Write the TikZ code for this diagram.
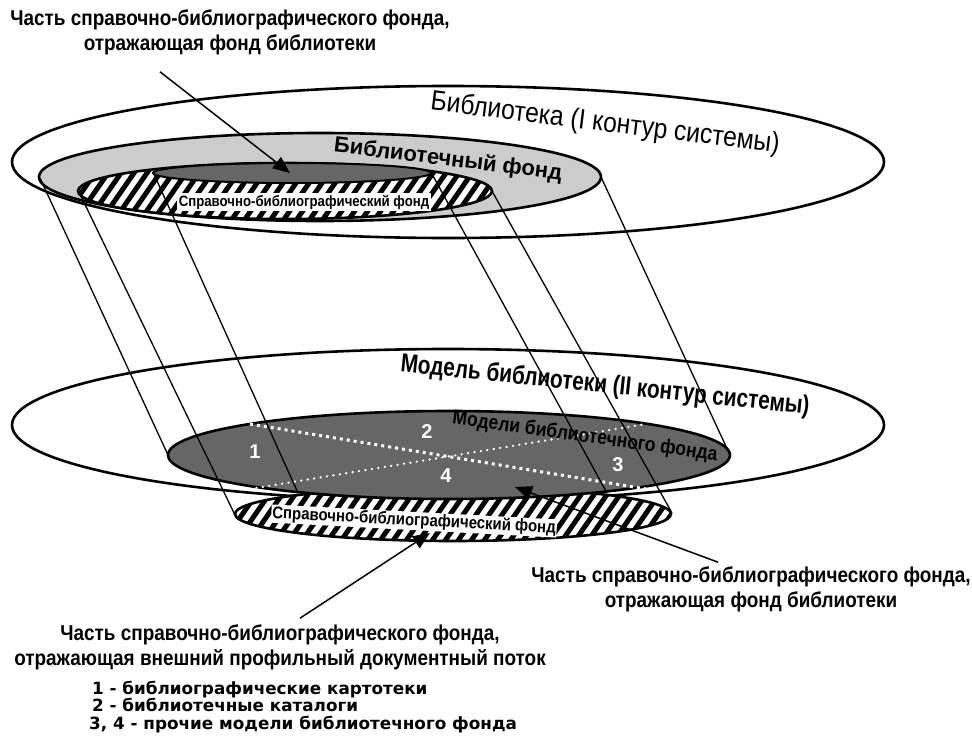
\documentclass[tikz,border=0pt]{standalone}
\usepackage{fontspec}
\setmainfont{Liberation Sans}
\newfontfamily\narrowfont{Liberation Sans}[FakeStretch=0.88]
\newfontfamily\condfont{Liberation Sans}[FakeStretch=0.8]
\newfontfamily\legendfont{DejaVu Sans}
\usetikzlibrary{arrows.meta}

\definecolor{fondgray}{RGB}{204,204,204}
\definecolor{modelgray}{RGB}{102,102,102}

\begin{document}
\begin{tikzpicture}[x=1pt, y=-1pt,
  rim/.style={draw=black, line width=2.6pt},
  link/.style={line width=1.3pt},
  pointer/.style={line width=1.5pt, -{Triangle[length=17pt,width=14pt]}},
  caption/.style={font=\narrowfont\bfseries\fontsize{21.5}{25}\selectfont, align=center, inner sep=0pt},
  title/.style={font=\narrowfont\bfseries\fontsize{#1}{#1}\selectfont, inner sep=0pt},
  tag/.style={fill=white, inner sep=2pt, font=\narrowfont\bfseries\fontsize{#1}{#1}\selectfont},
  digit/.style={inner sep=0pt, text=white, font=\bfseries\fontsize{20}{20}\selectfont}
]
\useasboundingbox (0,0) rectangle (972,744);

% I contour: library
\draw[rim, fill=white] (448,162) ellipse [x radius=436pt, y radius=76pt];
\draw[rim, fill=fondgray] (320,177) ellipse [x radius=281pt, y radius=44pt];
\begin{scope}
  \clip (285,191) ellipse [x radius=207pt, y radius=28pt];
  \fill[white] (70,160) rectangle (500,222);
  \foreach \s in {0,...,37}
    \draw[line width=5pt] (20+13*\s,225) -- ++(45,-65);
\end{scope}
\draw[rim] (285,191) ellipse [x radius=207pt, y radius=28pt];
\draw[line width=2pt, fill=modelgray] (292,173) ellipse [x radius=139pt, y radius=10pt];
\node[tag=15] (sbfTop) at (304,202) {Справочно-библиографический фонд};
\node[title=28, rotate=-7] (libTitle) at (605,124) {\mdseries Библиотека (I контур системы)};
\node[inner sep=0pt, rotate=-7, font=\bfseries\fontsize{22}{22}\selectfont] (fondTitle) at (448,160) {Библиотечный фонд};

% II contour: model of the library
\draw[rim, fill=white] (448,425) ellipse [x radius=436pt, y radius=76pt];
\begin{scope}
  \clip (453,514) ellipse [x radius=218pt, y radius=27pt];
  \fill[white] (225,480) rectangle (680,545);
  \foreach \s in {0,...,38}
    \draw[line width=5pt] (180+13*\s,548) -- ++(45,-65);
\end{scope}
\draw[rim] (453,514) ellipse [x radius=218pt, y radius=27pt];
\draw[rim, fill=modelgray] (449,455) ellipse [x radius=281pt, y radius=44pt];
\draw[white, line width=3pt, dash pattern=on 3pt off 4pt] (250,424) -- (646,489);
\draw[white, line width=2.6pt, line cap=round, dash pattern=on 0pt off 6.5pt] (250,489) -- (646,424);
\node[digit] (n1) at (255,452) {1};
\node[digit] (n2) at (427,432) {2};
\node[digit] (n3) at (618,465) {3};
\node[digit] (n4) at (446,476) {4};
\node[tag=17, inner sep=1pt, rotate=-3] (sbfBottom) at (414,521) {Справочно-библиографический фонд};
\node[inner sep=0pt, rotate=-6, font=\condfont\bfseries\fontsize{26}{26}\selectfont] (modelTitle) at (605,386) {Модель библиотеки (II контур системы)};
\node[title=20, rotate=-8] (modelFond) at (585,437) {Модели библиотечного фонда};

% projection lines between the contours
\coordinate (gL) at (40,178);   \coordinate (gR) at (601,177);
\coordinate (hL) at (78,190);   \coordinate (hR) at (492,191);
\coordinate (dL) at (153,172);  \coordinate (dR) at (432,174);
\coordinate (mL) at (168,455);  \coordinate (mR) at (730,455);
\coordinate (bL) at (235,515);  \coordinate (bR) at (672,513);
\coordinate (eL) at (298,493);  \coordinate (eR) at (607,493);
\draw[link] (gL) -- (mL);
\draw[link] (hL) -- (bL);
\draw[link] (dL) -- (eL);
\draw[link] (dR) -- (eR);
\draw[link] (hR) -- (bR);
\draw[link] (gR) -- (mR);

% captions
\node[caption] (capTop) at (230,32) {Часть справочно-библиографического фонда,\\отражающая фонд библиотеки};
\node[caption] (capRight) at (751,589) {Часть справочно-библиографического фонда,\\отражающая фонд библиотеки};
\node[caption] (capLeft) at (280,647) {Часть справочно-библиографического фонда,\\отражающая внешний профильный документный поток};
\coordinate (tipTop) at (290,173);
\coordinate (tipRight) at (515,487);
\coordinate (tipLeft) at (430,533);
\draw[pointer] (capTop.south -| 160,0) ++(0,17) -- (tipTop);
\draw[pointer] (capRight.north -| 718,0) ++(0,-4) -- (tipRight);
\draw[pointer] (capLeft.north -| 300,0) ++(0,-6) -- (tipLeft);

% legend
\node[anchor=west, align=left, inner sep=0pt, font=\legendfont\bfseries\fontsize{16.8}{17.8}\selectfont] (legend) at (89,707)
  {\,1 - библиографические картотеки\\\,2 - библиотечные каталоги\\3, 4 - прочие модели библиотечного фонда};
\end{tikzpicture}
\end{document}
